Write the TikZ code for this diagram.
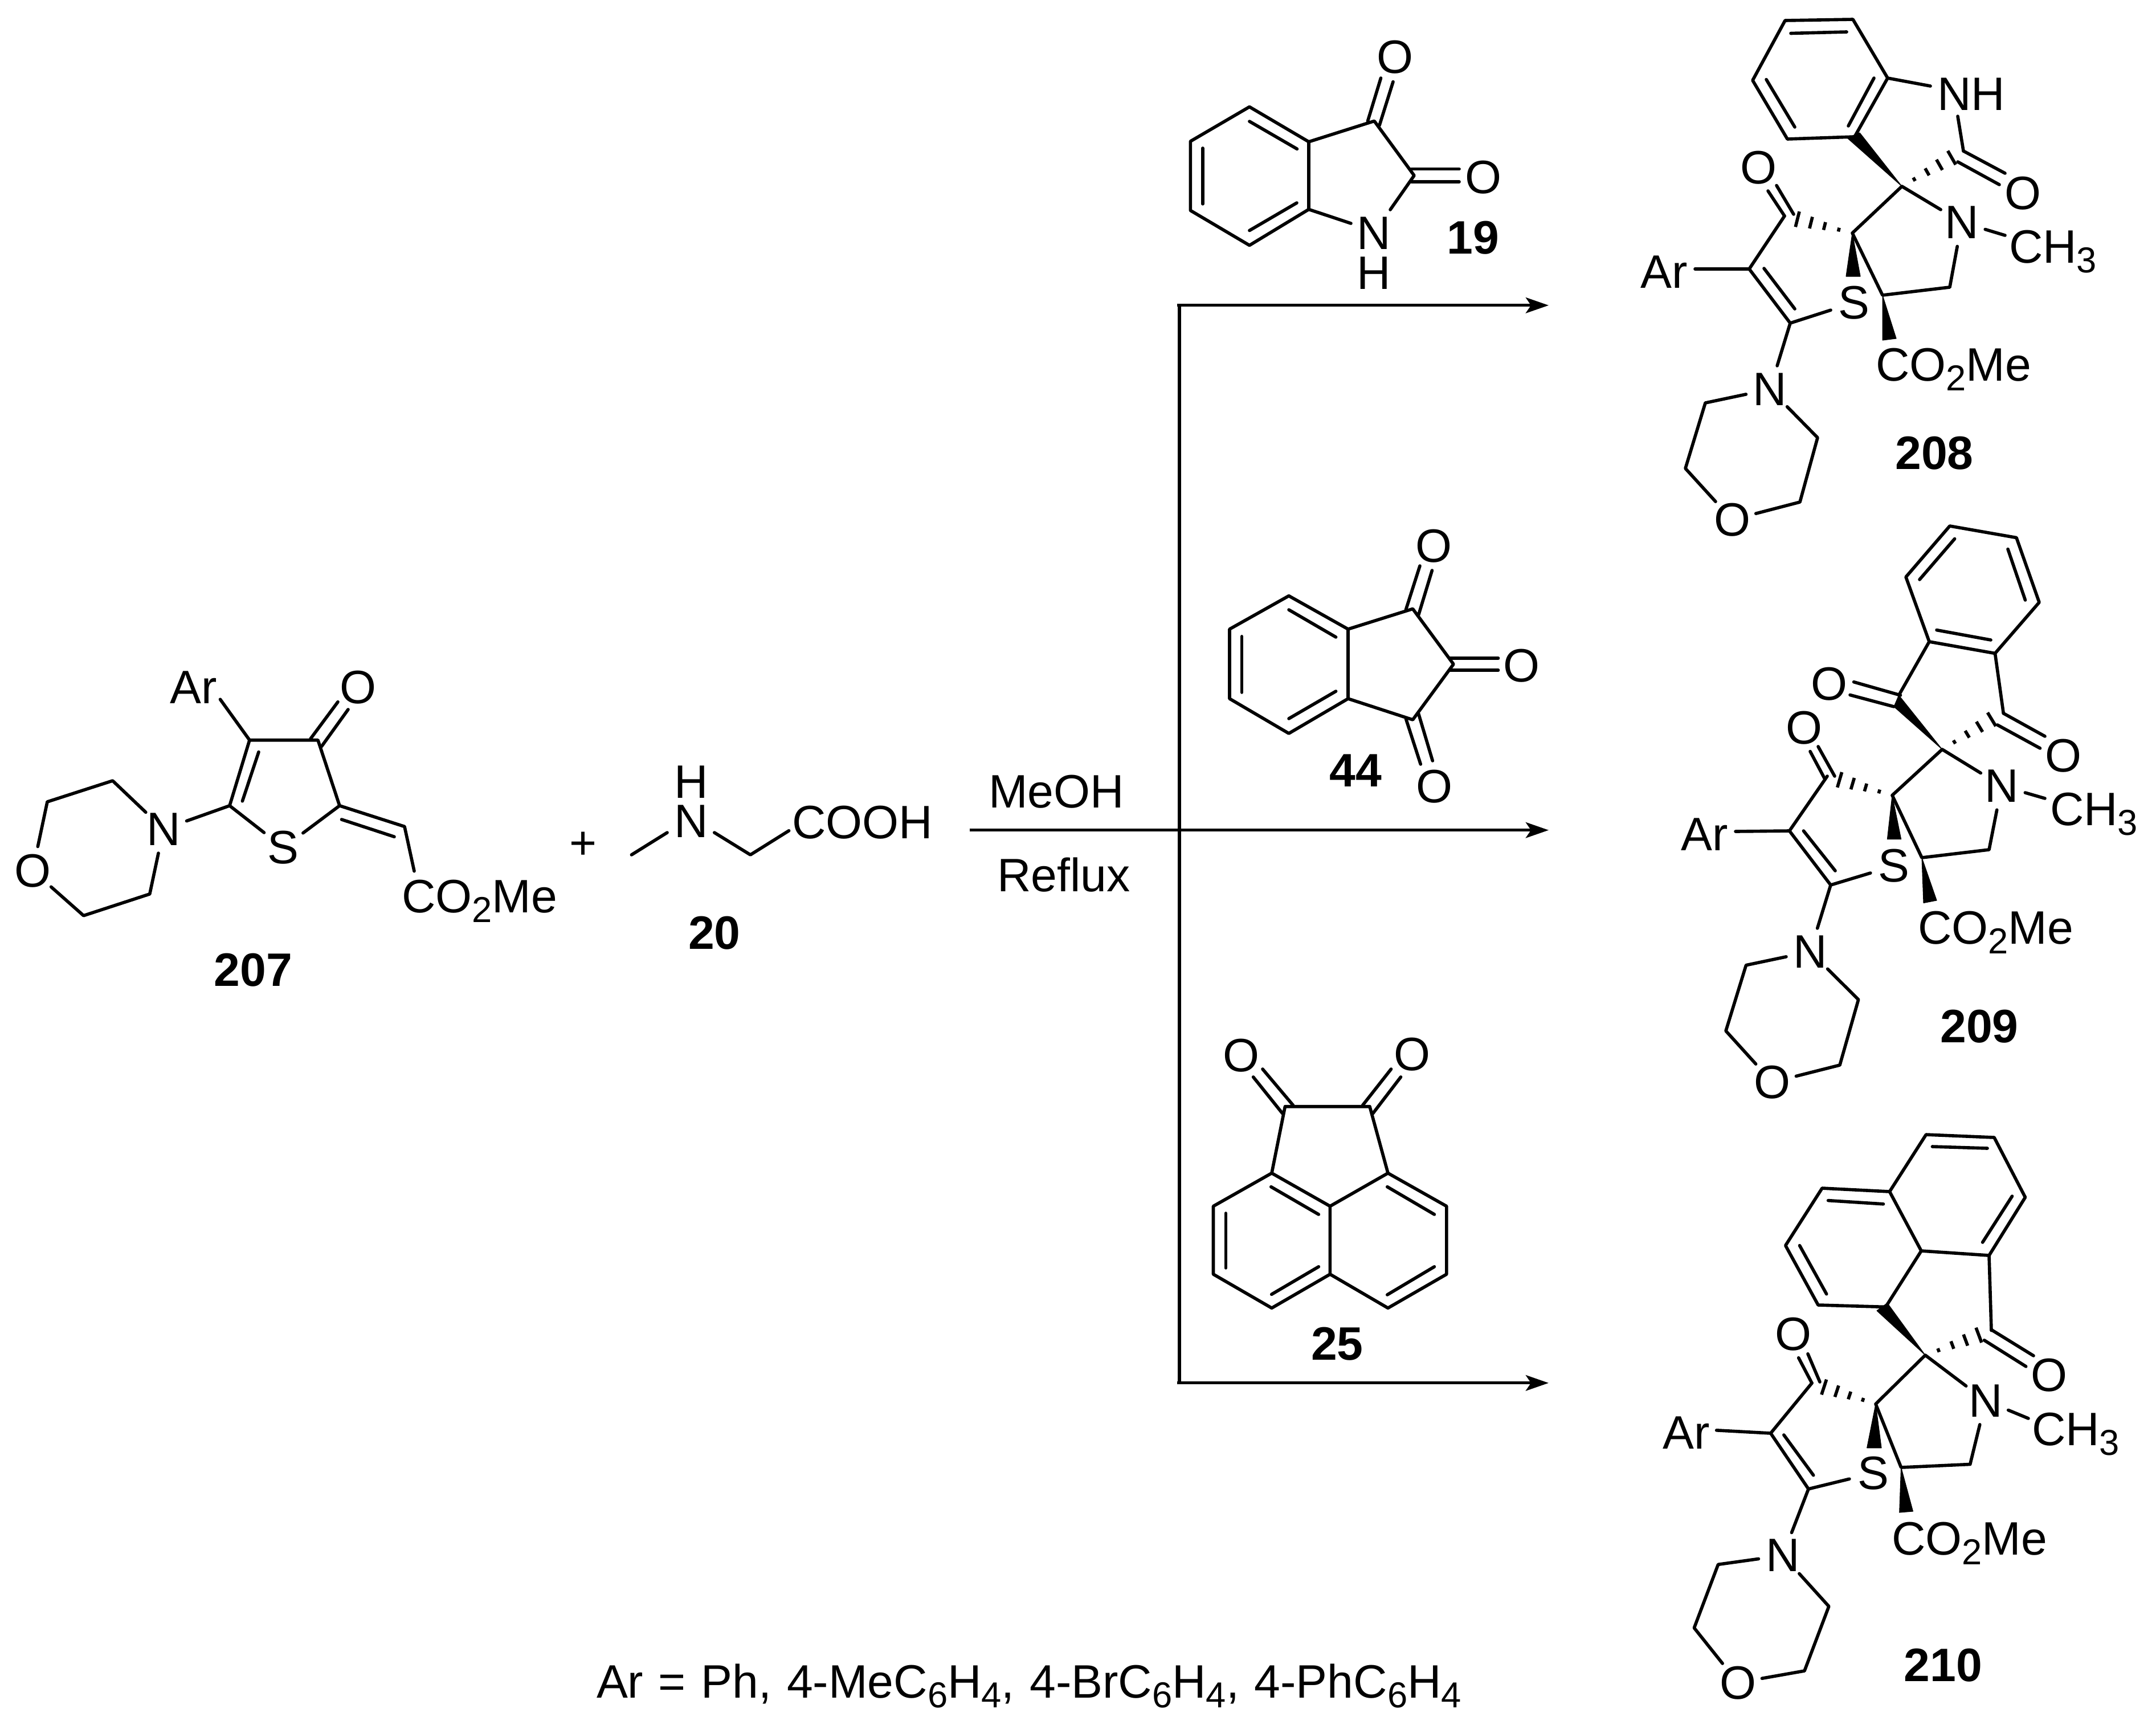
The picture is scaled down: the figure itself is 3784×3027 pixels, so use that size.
\documentclass[tikz,border=0pt]{standalone}
\usepackage{fontspec}
\setmainfont{Liberation Sans}
\usetikzlibrary{arrows.meta,calc}
\newcommand{\chemfont}{\fontsize{23.4}{27}\selectfont}
\newcommand{\lowidx}[1]{\raisebox{-4.9pt}{\fontsize{18}{18}\selectfont #1}}
\newcommand{\hashbond}[2]{%
  \foreach \t in {0.2,0.41,0.61,0.81}{%
    \pgfmathsetmacro{\w}{4.9*\t}%
    \draw[bond,line cap=butt] ($(#1)!\t!(#2)!\w pt!90:(#2)$) -- ($(#1)!\t!(#2)!\w pt!-90:(#2)$);
  }}
\tikzset{
  bond/.style={line width=1.6pt,line cap=round,line join=round,black},
  wedge/.style={fill=black,draw=black,line width=0.3pt,line join=round},
  atom/.style={circle,inner sep=0pt,outer sep=0pt,minimum size=0.86cm,font=\chemfont},
  txt/.style={inner sep=0pt,outer sep=0pt,font=\chemfont},
  stack/.style={inner sep=0pt,outer sep=0pt,align=center,font=\fontsize{23.4}{19.8}\selectfont},
  chem/.style={inner sep=0pt,outer sep=0pt,font=\chemfont,anchor=base west},
  num/.style={inner sep=0pt,outer sep=0pt,font=\chemfont\bfseries},
  rxn/.style={line width=1.5pt,-{Stealth[length=11.4pt,width=7.8pt,inset=2.6pt]}},
  rline/.style={line width=1.5pt}
}
\begin{document}
\begin{tikzpicture}[x=0.01cm,y=-0.01cm]
\useasboundingbox (0,0) rectangle (3784,3027);
\fill[white] (0,0) rectangle (3784,3027);

%%% 207
\coordinate (Rc1) at (438,1298.7);
\coordinate (Rc2) at (558,1298.7);
\coordinate (Rc3) at (596,1413.8);
\coordinate (Rc4) at (403,1413.8);
\coordinate (Rex) at (710,1450.4);
\coordinate (Rm1) at (197.7,1370);
\coordinate (Rm2) at (83,1407);
\coordinate (Rm3) at (146.7,1606.7);
\coordinate (Rm4) at (262.8,1568.8);
\coordinate (RarE) at (386.5,1227.2);
\coordinate (RcoE) at (727,1528.6);
\node[atom] (RS) at (497.4,1487.5) {S};
\node[atom] (RN) at (287,1455) {N};
\node[atom] (RO) at (57.4,1527.7) {O};
\node[txt] (RAr) at (340,1205.8) {Ar};
\node[txt] (RO2) at (628,1205.8) {O};
\node[chem] (Rco) at (705,1601) {CO\lowidx{2}Me};
\node[num] (Rlab) at (444.5,1701.8) {207};
\draw[bond] (RS) -- (Rc4) -- (Rc1) -- (Rc2) -- (Rc3) -- (RS);
\draw[bond] (454,1319.6) -- (425.4,1405.8);
\draw[bond] (Rc1) -- (RarE);
\draw[bond] (545,1296.4) -- (593,1231.7);
\draw[bond] (564.4,1309.8) -- (611,1245);
\draw[bond] (Rc3) -- (Rex) -- (RcoE);
\draw[bond] (599.5,1438) -- (692,1468.3);
\draw[bond] (Rc4) -- (RN) -- (Rm1) -- (Rm2) -- (RO) -- (Rm3) -- (Rm4) -- (RN);

%%% 20
\node[txt] (Gplus) at (1023.6,1484) {+};
\node[stack] (GNH) at (1213.6,1406.7) {H\\N};
\coordinate (Gme) at (1108.4,1500);
\coordinate (GNl) at (1171,1461);
\coordinate (GNr) at (1253.8,1461);
\coordinate (Gc) at (1317,1500);
\coordinate (GcE) at (1384.6,1457.7);
\node[chem] (Gco) at (1390,1471) {COOH};
\node[num] (Glab) at (1253.8,1636.7) {20};
\draw[bond] (Gme) -- (GNl);
\draw[bond] (GNr) -- (Gc) -- (GcE);

%%% reaction lines
\coordinate (Ast) at (1701.5,1456.7);
\coordinate (Atp) at (2718,1456.7);
\coordinate (Vtp) at (2066,535.8);
\coordinate (Vt) at (2070,535.8);
\coordinate (Ttp) at (2718,535.8);
\coordinate (Vbt) at (2066,2426.8);
\coordinate (Vb) at (2070,2426.8);
\coordinate (Btp) at (2718,2426.8);
\draw[rxn] (Ast) -- (Atp);
\draw[rxn] (Vtp) -- (Ttp);
\draw[rxn] (Vbt) -- (Btp);
\draw[rline] (Vt) -- (Vb);
\node[chem] (Tm) at (1735,1417) {MeOH};
\node[chem] (Tr) at (1750,1564) {Reflux};

%%% 19
\coordinate (Id1) at (2192.9,187.5);
\coordinate (Id2) at (2297,248.8);
\coordinate (Id3) at (2297,367.4);
\coordinate (Id4) at (2192.9,430.5);
\coordinate (Id5) at (2089.3,369.3);
\coordinate (Id6) at (2089.3,248);
\coordinate (Ic1) at (2412,212.4);
\coordinate (Ic2) at (2482,308);
\coordinate (INl) at (2371,392);
\coordinate (INr) at (2440,368);
\node[stack] (INH) at (2410.7,444) {N\\H};
\node[txt] (IO1) at (2448,100.6) {O};
\node[txt] (IO2) at (2603,311) {O};
\node[num] (Ilab) at (2585.7,417) {19};
\draw[bond] (Id1) -- (Id2) -- (Id3) -- (Id4) -- (Id5) -- (Id6) -- cycle;
\draw[bond] (2192.9,213) -- (2276.5,261.4);
\draw[bond] (2276,356) -- (2192.9,404.5);
\draw[bond] (2110.7,260) -- (2110.7,357.8);
\draw[bond] (Id3) -- (INl);
\draw[bond] (INr) -- (Ic2) -- (Ic1) -- (Id2);
\draw[bond] (2400.5,212.4) -- (2423.5,137);
\draw[bond] (2421,220) -- (2445,143.5);
\draw[bond] (2477,296.6) -- (2561,296.6);
\draw[bond] (2477,318.8) -- (2561,318.8);

%%% 44
\coordinate (Je1) at (2262,1045.6);
\coordinate (Je2) at (2366,1104);
\coordinate (Je3) at (2366,1226);
\coordinate (Je4) at (2262,1287);
\coordinate (Je5) at (2158,1226);
\coordinate (Je6) at (2158,1104);
\coordinate (Jc1) at (2479.5,1068.4);
\coordinate (Jc2) at (2551,1165.5);
\coordinate (Jc3) at (2479.5,1263);
\node[txt] (JO1) at (2516.5,958) {O};
\node[txt] (JO2) at (2670.5,1168) {O};
\node[txt] (JO3) at (2517.4,1380.5) {O};
\node[num] (Jlab) at (2379.5,1352.5) {44};
\draw[bond] (Je1) -- (Je2) -- (Je3) -- (Je4) -- (Je5) -- (Je6) -- cycle;
\draw[bond] (2262,1070) -- (2344.6,1118);
\draw[bond] (2344.6,1213) -- (2262,1261);
\draw[bond] (2179.5,1116.8) -- (2179.5,1215);
\draw[bond] (Je2) -- (Jc1) -- (Jc2) -- (Jc3) -- (Je3);
\draw[bond] (2467.4,1070) -- (2492,993);
\draw[bond] (2489.7,1079) -- (2513.4,1001);
\draw[bond] (2545.5,1155) -- (2629.5,1155);
\draw[bond] (2545.5,1176) -- (2629.5,1176);
\draw[bond] (2467.4,1261) -- (2493.3,1341);
\draw[bond] (2489.7,1252.5) -- (2514.3,1335);

%%% 25
\coordinate (Kf1) at (2232,2058.6);
\coordinate (Kf2) at (2334.4,2116.6);
\coordinate (Kf3) at (2334.4,2236);
\coordinate (Kf4) at (2232,2295.3);
\coordinate (Kf5) at (2129.5,2236);
\coordinate (Kf6) at (2129.5,2116.6);
\coordinate (Kf7) at (2436,2058.6);
\coordinate (Kf8) at (2538.8,2116.6);
\coordinate (Kf9) at (2538.8,2236);
\coordinate (Kf10) at (2436,2295.3);
\coordinate (Kc1) at (2255.4,1941.7);
\coordinate (Kc2) at (2404,1941.7);
\node[txt] (KO1) at (2178.6,1851.7) {O};
\node[txt] (KO2) at (2478.6,1850.5) {O};
\node[num] (Klab) at (2346.9,2358.4) {25};
\draw[bond] (Kf1) -- (Kf2) -- (Kf3) -- (Kf4) -- (Kf5) -- (Kf6) -- cycle;
\draw[bond] (Kf2) -- (Kf7) -- (Kf8) -- (Kf9) -- (Kf10) -- (Kf3);
\draw[bond] (Kf1) -- (Kc1) -- (Kc2) -- (Kf7);
\draw[bond] (2230.8,2082.6) -- (2314.3,2131);
\draw[bond] (2314.3,2222.8) -- (2231.7,2271.3);
\draw[bond] (2151.3,2129) -- (2151.3,2224.9);
\draw[bond] (2434.8,2082.6) -- (2517.4,2131);
\draw[bond] (2517.4,2222.8) -- (2434.8,2272);
\draw[bond] (2216,1876) -- (2269.6,1939.6);
\draw[bond] (2199.6,1889.9) -- (2251,1954);
\draw[bond] (2441.5,1876) -- (2391.5,1939.6);
\draw[bond] (2458.5,1889.9) -- (2409.4,1954);

%%% 208
\coordinate (Aa1) at (3133,36);
\coordinate (Aa2) at (3252,34);
\coordinate (Aa3) at (3313,137);
\coordinate (Aa4) at (3255,240);
\coordinate (Aa5) at (3137,244);
\coordinate (Aa6) at (3076,141);
\coordinate (Anh1) at (3388,151);
\coordinate (Anh2) at (3436,204);
\coordinate (Acam) at (3446,265);
\coordinate (Asp) at (3338,327);
\coordinate (Ac4) at (3251,409);
\coordinate (Ac5) at (3304,518);
\coordinate (Ach) at (3422,504);
\coordinate (Ame) at (3519,413);
\coordinate (Ack) at (3132,379);
\coordinate (Ac3) at (3070,472);
\coordinate (Ac2) at (3142,567);
\coordinate (AarE) at (2975,472);
\coordinate (Am1) at (2993,707);
\coordinate (Am2) at (2958,822);
\coordinate (Am3) at (3190,768);
\coordinate (Am4) at (3159,881);
\node[chem] (Anh) at (3400,193) {NH};
\node[atom] (AN) at (3443,390) {N};
\node[atom] (AS) at (3254,531) {S};
\node[atom] (AN2) at (3106.5,683) {N};
\node[atom] (AO3) at (3040,912) {O};
\node[txt] (AO1) at (3550,339) {O};
\node[txt] (AO2) at (3086,294) {O};
\node[txt] (AAr) at (2921,477) {Ar};
\node[chem] (Ach3) at (3526,461) {CH\lowidx{3}};
\node[chem] (Aco) at (3292,668) {CO\lowidx{2}Me};
\node[num] (Alab) at (3395,795) {208};
\draw[bond] (Aa1) -- (Aa2) -- (Aa3) -- (Aa4) -- (Aa5) -- (Aa6) -- cycle;
\draw[bond] (3143,58.5) -- (3241,56);
\draw[bond] (3100,139.5) -- (3150,223);
\draw[bond] (3289,137) -- (3244,221);
\draw[bond] (Aa3) -- (Anh1);
\draw[bond] (Anh2) -- (Acam);
\draw[bond] (3446,265) -- (3519,304);
\draw[bond] (3436,284) -- (3509,324);
\fill[wedge] (Asp) -- (3242,242) -- (3264,233) -- cycle;
\hashbond{Asp}{Acam}
\draw[bond] (Ac4) -- (Asp) -- (AN) -- (Ach) -- (Ac5) -- (Ac4);
\draw[bond] (AN) -- (Ame);
\fill[wedge] (Ac5) -- (3304,597) -- (3328,594) -- cycle;
\fill[wedge] (Ac4) -- (3240,485) -- (3265,485) -- cycle;
\hashbond{Ac4}{Ack}
\draw[bond] (Ack) -- (Ac3) -- (Ac2) -- (AS);
\draw[bond] (3118,325.5) -- (3148,376);
\draw[bond] (3103,335) -- (3132,379);
\draw[bond] (AarE) -- (Ac3);
\draw[bond] (3096,471) -- (3150,542);
\draw[bond] (Ac2) -- (AN2);
\draw[bond] (AN2) -- (Am1) -- (Am2) -- (AO3) -- (Am4) -- (Am3) -- (AN2);

%%% 209
\coordinate (Bb1) at (3422,923);
\coordinate (Bb2) at (3539,943.5);
\coordinate (Bb3) at (3579,1057);
\coordinate (Bb4) at (3501.5,1146.5);
\coordinate (Bb5) at (3386,1126);
\coordinate (Bb6) at (3345,1012.5);
\coordinate (Bk1) at (3332.6,1220);
\coordinate (Bk2) at (3516,1250);
\coordinate (Bsp) at (3408.7,1315);
\coordinate (Bc4) at (3321,1395.6);
\coordinate (Bc5) at (3373,1505);
\coordinate (Bch) at (3491,1491);
\coordinate (Bme) at (3589,1401);
\coordinate (Bck) at (3207,1362);
\coordinate (Bc3) at (3140.6,1458);
\coordinate (Bc2) at (3213,1553);
\coordinate (BarE) at (3046,1459);
\coordinate (Bm1) at (3064.5,1693.7);
\coordinate (Bm2) at (3029,1809);
\coordinate (Bm3) at (3261.7,1754);
\coordinate (Bm4) at (3229,1869);
\node[atom] (BN) at (3513,1379) {N};
\node[atom] (BS) at (3324,1519.5) {S};
\node[atom] (BN2) at (3177,1670) {N};
\node[atom] (BO4) at (3110.6,1899) {O};
\node[txt] (BO1) at (3210,1200) {O};
\node[txt] (BO2) at (3621,1326.6) {O};
\node[txt] (BO3) at (3166.5,1277) {O};
\node[txt] (BAr) at (2992,1464) {Ar};
\node[chem] (Bch3) at (3598,1448) {CH\lowidx{3}};
\node[chem] (Bco) at (3366,1656) {CO\lowidx{2}Me};
\node[num] (Blab) at (3474,1801) {209};
\draw[bond] (Bb1) -- (Bb2) -- (Bb3) -- (Bb4) -- (Bb5) -- (Bb6) -- cycle;
\draw[bond] (3430.6,945.5) -- (3369,1017);
\draw[bond] (3524,963.6) -- (3554.5,1053);
\draw[bond] (3494,1123) -- (3399,1105.6);
\draw[bond] (Bb5) -- (Bk1);
\draw[bond] (Bb4) -- (Bk2);
\draw[bond] (3253.6,1196.7) -- (3335.5,1220);
\draw[bond] (3247,1219.5) -- (3324,1240);
\draw[bond] (3516,1251.6) -- (3589,1292);
\draw[bond] (3505.5,1272) -- (3580.5,1313);
\fill[wedge] (Bsp) -- (3332.6,1220) -- (3324,1240) -- cycle;
\hashbond{Bsp}{Bk2}
\draw[bond] (Bc4) -- (Bsp) -- (BN) -- (Bch) -- (Bc5) -- (Bc4);
\draw[bond] (BN) -- (Bme);
\fill[wedge] (Bc5) -- (3376,1584.5) -- (3399,1580) -- cycle;
\fill[wedge] (Bc4) -- (3312.4,1472.7) -- (3336.6,1472.7) -- cycle;
\hashbond{Bc4}{Bck}
\draw[bond] (Bck) -- (Bc3) -- (Bc2) -- (BS);
\draw[bond] (3191,1310) -- (3220,1362);
\draw[bond] (3177,1318.6) -- (3202,1365.5);
\draw[bond] (BarE) -- (Bc3);
\draw[bond] (3165.4,1458) -- (3221,1528);
\draw[bond] (Bc2) -- (BN2);
\draw[bond] (BN2) -- (Bm1) -- (Bm2) -- (BO4) -- (Bm4) -- (Bm3) -- (BN2);

%%% 210
\coordinate (Cc1) at (3380.4,1991);
\coordinate (Cc2) at (3500,1996);
\coordinate (Cc3) at (3554.5,2101);
\coordinate (Cc4) at (3491,2203);
\coordinate (Cc5) at (3372,2195);
\coordinate (Cc6) at (3316.4,2091);
\coordinate (Cc7) at (3198,2085);
\coordinate (Cc8) at (3133.7,2185.6);
\coordinate (Cc9) at (3191,2290);
\coordinate (Cc10) at (3309.5,2293.4);
\coordinate (Ck1) at (3495,2334.6);
\coordinate (Csp) at (3379,2378);
\coordinate (Cd4) at (3292,2463.7);
\coordinate (Cd5) at (3336.6,2575);
\coordinate (Cch) at (3457.7,2569.5);
\coordinate (Cme) at (3560,2489);
\coordinate (Cck) at (3180,2427);
\coordinate (Cd3) at (3107.7,2515);
\coordinate (Cd2) at (3174,2612.8);
\coordinate (CarE) at (3012.6,2509.8);
\coordinate (Cm1) at (3015.5,2745.3);
\coordinate (Cm2) at (2973.4,2856.6);
\coordinate (Cm3) at (3209.8,2818.8);
\coordinate (Cm4) at (3167,2932);
\node[atom] (CN) at (3485,2458) {N};
\node[atom] (CS) at (3287.6,2585) {S};
\node[atom] (CN2) at (3129,2729.5) {N};
\node[atom] (CO3) at (3050,2952.7) {O};
\node[txt] (CO1) at (3596.6,2413.6) {O};
\node[txt] (CO2) at (3147,2341.5) {O};
\node[txt] (CAr) at (2960,2514) {Ar};
\node[chem] (Cch3) at (3566,2536) {CH\lowidx{3}};
\node[chem] (Cco) at (3320,2728) {CO\lowidx{2}Me};
\node[num] (Clab) at (3410.4,2922) {210};
\draw[bond] (Cc6) -- (Cc1) -- (Cc2) -- (Cc3) -- (Cc4) -- (Cc5) -- (Cc6) -- (Cc7) -- (Cc8) -- (Cc9) -- (Cc10) -- (Cc5);
\draw[bond] (3391.4,2012) -- (3488,2015);
\draw[bond] (3531.5,2099) -- (3479.6,2180);
\draw[bond] (3305.5,2112.8) -- (3208.6,2106.6);
\draw[bond] (3158.5,2185.6) -- (3205.7,2270.7);
\draw[bond] (Cc4) -- (Ck1);
\draw[bond] (3497,2334.6) -- (3569,2379);
\draw[bond] (3482.5,2351.8) -- (3555.7,2397.8);
\fill[wedge] (Csp) -- (3294,2300) -- (3312.4,2286.5) -- cycle;
\hashbond{Csp}{Ck1}
\draw[bond] (Cd4) -- (Csp) -- (CN) -- (Cch) -- (Cd5) -- (Cd4);
\draw[bond] (CN) -- (Cme);
\fill[wedge] (Cd5) -- (3333.7,2654) -- (3357.4,2652) -- cycle;
\fill[wedge] (Cd4) -- (3276.7,2540.7) -- (3302,2540.7) -- cycle;
\hashbond{Cd4}{Cck}
\draw[bond] (Cck) -- (Cd3) -- (Cd2) -- (CS);
\draw[bond] (3173,2375.8) -- (3194,2425);
\draw[bond] (3156.7,2382.7) -- (3180,2427);
\draw[bond] (CarE) -- (Cd3);
\draw[bond] (3130.8,2518) -- (3182.7,2588.7);
\draw[bond] (Cd2) -- (CN2);
\draw[bond] (CN2) -- (Cm1) -- (Cm2) -- (CO3) -- (Cm4) -- (Cm3) -- (CN2);

%%% footer
\node[chem] (Foot) at (1047,2979) {\spaceskip=0.325em Ar = Ph, 4-MeC\lowidx{6}H\lowidx{4}, 4-BrC\lowidx{6}H\lowidx{4}, 4-PhC\lowidx{6}H\lowidx{4}};
\end{tikzpicture}
\end{document}
